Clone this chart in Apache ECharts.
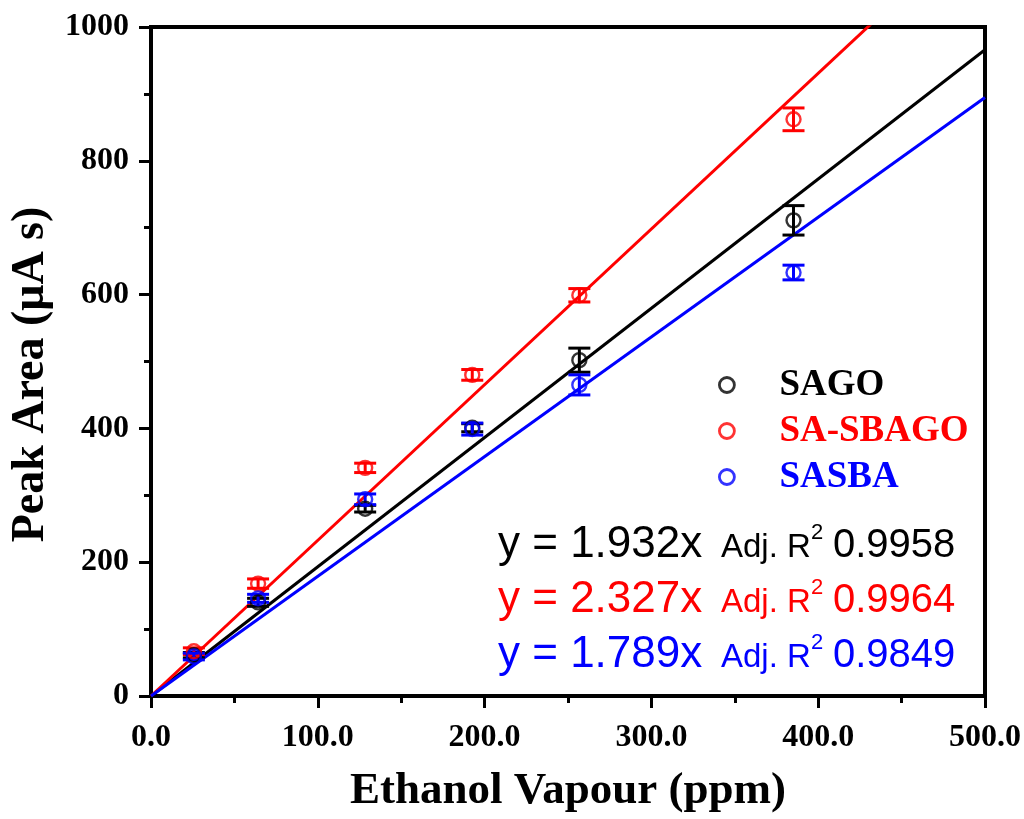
<!DOCTYPE html>
<html>
<head>
<meta charset="utf-8">
<script src="https://cdn.jsdelivr.net/npm/echarts@6/dist/echarts.min.js"></script>
<style>html,body{margin:0;padding:0;background:#fff;}#chart{width:1024px;height:819px;}</style>
</head>
<body>
<div id="chart"></div>
<script>
// ---- data ----
const concentrations = [25.7, 64.2, 128.4, 192.6, 256.8, 385.2];
const seriesNames = ['SAGO', 'SA-SBAGO', 'SASBA'];
const sagoValues = [61, 140, 280, 401, 502, 711];
const sagoErrors = [4, 6, 5, 6, 18, 22];
const sasbagoValues = [67, 168, 341, 480, 599, 862];
const sasbagoErrors = [5, 7, 7, 8, 10, 17];
const sasbaValues = [59, 146, 294, 399, 465, 633];
const sasbaErrors = [5, 6, 8, 9, 15, 11];
const fitSlopes = [1.932, 2.327, 1.789];
const fitEquations = ['y = 1.932x', 'y = 2.327x', 'y = 1.789x'];
const fitR2 = ['0.9958', '0.9964', '0.9849'];
const xTicks = [0, 100, 200, 300, 400, 500];
const yTicks = [0, 200, 400, 600, 800, 1000];

const colors = ['#000000', '#ff0000', '#0000ff'];
const values = [sagoValues, sasbagoValues, sasbaValues];
const errors = [sagoErrors, sasbagoErrors, sasbaErrors];
const xMax = xTicks[xTicks.length - 1];

const chart = echarts.init(document.getElementById('chart'));
const series = [];

// fit lines
fitSlopes.forEach((k, i) => {
  series.push({
    name: seriesNames[i] + ' fit',
    type: 'line',
    data: [[0, 0], [xMax, k * xMax]],
    showSymbol: false,
    symbol: 'none',
    clip: true,
    lineStyle: { color: colors[i], width: 3 },
    z: 2,
    silent: true
  });
});

// error bars
values.forEach((vals, i) => {
  series.push({
    name: seriesNames[i] + ' err',
    type: 'custom',
    data: vals.map((v, j) => [concentrations[j], v - errors[i][j], v + errors[i][j]]),
    renderItem: function (params, api) {
      const x = api.value(0);
      const p1 = api.coord([x, api.value(1)]);
      const p2 = api.coord([x, api.value(2)]);
      const hw = 11;
      const st = { stroke: colors[i], lineWidth: 3 };
      return {
        type: 'group',
        children: [
          { type: 'line', shape: { x1: p1[0], y1: p1[1], x2: p2[0], y2: p2[1] }, style: st },
          { type: 'line', shape: { x1: p1[0] - hw, y1: p1[1], x2: p1[0] + hw, y2: p1[1] }, style: st },
          { type: 'line', shape: { x1: p2[0] - hw, y1: p2[1], x2: p2[0] + hw, y2: p2[1] }, style: st }
        ]
      };
    },
    z: 3,
    silent: true
  });
});

// data points
values.forEach((vals, i) => {
  series.push({
    name: seriesNames[i],
    type: 'scatter',
    data: vals.map((v, j) => [concentrations[j], v]),
    symbol: 'circle',
    symbolSize: 14,
    itemStyle: { color: 'rgba(0,0,0,0)', borderColor: colors[i], borderWidth: 2.4 },
    z: 4
  });
});

const serif = '"Liberation Serif", "Times New Roman", serif';
const sans = '"Liberation Sans", Arial, sans-serif';

const graphics = [];
const baseY = [559, 614, 669];
fitEquations.forEach((eq, i) => {
  const b = baseY[i];
  graphics.push({ type: 'text', left: 498, top: b - 36, style: { text: eq, fill: colors[i], font: '44px ' + sans } });
  graphics.push({ type: 'text', left: 721, top: b - 28, style: { text: 'Adj. R', fill: colors[i], font: '33px ' + sans } });
  graphics.push({ type: 'text', left: 811, top: b - 37, style: { text: '2', fill: colors[i], font: '22px ' + sans } });
  graphics.push({ type: 'text', left: 833, top: b - 33, style: { text: fitR2[i], fill: colors[i], font: '40px ' + sans } });
});

chart.setOption({
  animation: false,
  backgroundColor: '#ffffff',
  grid: {
    left: 151, right: 38, top: 27, bottom: 118,
    show: true, borderColor: '#000', borderWidth: 4, backgroundColor: 'transparent'
  },
  legend: {
    data: seriesNames.map((n, i) => ({ name: n, textStyle: { color: colors[i] } })),
    orient: 'vertical',
    left: 718,
    top: 364,
    padding: 0,
    itemWidth: 15,
    itemHeight: 15,
    itemGap: 4,
    icon: 'circle',
    itemStyle: { borderWidth: 2.8 },
    textStyle: { fontFamily: serif, fontWeight: 'bold', fontSize: 37, lineHeight: 42, padding: [0, 0, 0, 40] }
  },
  xAxis: {
    type: 'value',
    min: 0, max: xMax, interval: 100,
    name: 'Ethanol Vapour (ppm)',
    nameLocation: 'middle',
    nameGap: 73,
    nameTextStyle: { fontFamily: serif, fontWeight: 'bold', fontSize: 45, color: '#000' },
    axisLine: { show: true, onZero: false, lineStyle: { color: '#000', width: 4 } },
    axisTick: { show: true, inside: false, length: 12, lineStyle: { width: 3, color: '#000' } },
    minorTick: { show: true, splitNumber: 2, length: 7, lineStyle: { width: 3, color: '#000' } },
    axisLabel: {
      margin: 26, fontFamily: serif, fontWeight: 'bold', fontSize: 32, color: '#000',
      formatter: v => xTicks.includes(v) ? v.toFixed(1) : ''
    },
    splitLine: { show: false }
  },
  yAxis: {
    type: 'value',
    min: 0, max: 1000, interval: 200,
    name: 'Peak Area (μA s)',
    nameLocation: 'middle',
    nameGap: 92,
    nameTextStyle: { fontFamily: serif, fontWeight: 'bold', fontSize: 46, color: '#000', padding: [0, 26, 0, 0] },
    axisLine: { show: true, onZero: false, lineStyle: { color: '#000', width: 4 } },
    axisTick: { show: true, inside: false, length: 12, lineStyle: { width: 3, color: '#000' } },
    minorTick: { show: true, splitNumber: 2, length: 7, lineStyle: { width: 3, color: '#000' } },
    axisLabel: {
      margin: 22, fontFamily: serif, fontWeight: 'bold', fontSize: 32, color: '#000',
      formatter: v => yTicks.includes(v) ? String(v) : ''
    },
    splitLine: { show: false }
  },
  graphic: graphics,
  series: series
});
</script>
</body>
</html>
